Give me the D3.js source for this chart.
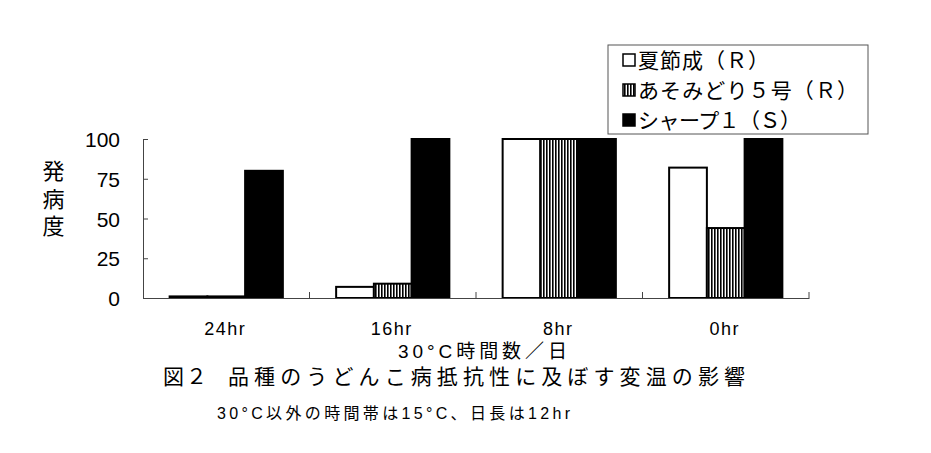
<!DOCTYPE html>
<html>
<head>
<meta charset="utf-8">
<script src="https://cdn.jsdelivr.net/npm/d3@7"></script>
<style>
  html, body { margin: 0; padding: 0; background: #fff; }
  svg { display: block; }
</style>
</head>
<body>
<svg id="chart" width="931" height="453"></svg>
<script>
// ---- data ----
const categories = ["24hr", "16hr", "8hr", "0hr"];
const seriesNames = ["夏節成（Ｒ）", "あそみどり５号（Ｒ）", "シャープ１（Ｓ）"];
const natsuhoshi = [1, 7, 100, 82];
const asomidori = [1, 9, 100, 44];
const sharp = [80, 100, 100, 100];
const yTicks = [0, 25, 50, 75, 100];
const yTitle = "発病度";
const xTitle = "30°C時間数／日";
const figTitleNum = "図２";
const figTitle = "品種のうどんこ病抵抗性に及ぼす変温の影響";
const note = "30°C以外の時間帯は15°C、日長は12hr";

const seriesValues = [natsuhoshi, asomidori, sharp];
const fills = ["#ffffff", "url(#vstripe)", "#000000"];

const svg = d3.select("#chart");
svg.append("rect").attr("width", 931).attr("height", 453).attr("fill", "#fff");

const defs = svg.append("defs");
const pat = defs.append("pattern").attr("id", "vstripe")
  .attr("patternUnits", "userSpaceOnUse").attr("width", 3).attr("height", 10);
pat.append("rect").attr("width", 3).attr("height", 10).attr("fill", "#fff");
pat.append("rect").attr("width", 1.6).attr("height", 10).attr("fill", "#000");

const plotLeft = 143, plotRight = 809, plotTop = 139, plotBottom = 298;

const x = d3.scaleBand().domain(categories).range([plotLeft, plotRight])
  .paddingInner(0.32).paddingOuter(0.16);
const xs = d3.scaleBand().domain(d3.range(seriesNames.length)).range([0, x.bandwidth()]);
const y = d3.scaleLinear().domain([0, 100]).range([plotBottom, plotTop]);

const latin = "'Liberation Sans', Arial, sans-serif";
const narrow = "'Liberation Sans Narrow', 'Liberation Sans', Arial, sans-serif";
const cjk = "'Liberation Sans', 'Noto Sans CJK JP', 'Noto Sans CJK SC', sans-serif";

// bars
const rows = [];
categories.forEach((c, i) => seriesValues.forEach((vals, s) => rows.push({ c, s, v: vals[i] })));
svg.append("g").selectAll("rect").data(rows).join("rect")
  .attr("x", d => x(d.c) + xs(d.s))
  .attr("width", xs.bandwidth())
  .attr("y", d => y(d.v))
  .attr("height", d => y(0) - y(d.v))
  .attr("fill", d => fills[d.s])
  .attr("stroke", "#000")
  .attr("stroke-width", 2);

// y axis
const yAxis = d3.axisLeft(y).tickValues(yTicks).tickSize(-5).tickPadding(23);
const gy = svg.append("g").attr("transform", `translate(${plotLeft},0)`).call(yAxis);
gy.select(".domain").attr("stroke", "#444").attr("stroke-width", 1);
gy.selectAll(".tick line").attr("stroke", "#444");
gy.selectAll(".tick text")
  .attr("font-family", latin).attr("font-size", 21).attr("fill", "#000")
  .attr("dy", "0.36em");

// x axis
const xAxis = d3.axisBottom(x).tickSize(0).tickPadding(0).tickFormat(() => "");
const gx = svg.append("g").attr("transform", `translate(0,${plotBottom})`).call(xAxis);
gx.select(".domain").attr("stroke", "#444").attr("stroke-width", 1);
// boundary ticks between categories (inward)
const bounds = categories.map(c => x(c) + x.bandwidth() + x.step() * x.paddingOuter());
svg.append("g").selectAll("line").data(bounds).join("line")
  .attr("x1", d => d).attr("x2", d => d)
  .attr("y1", plotBottom).attr("y2", plotBottom - 6)
  .attr("stroke", "#444").attr("stroke-width", 1);

// x labels
svg.append("g").selectAll("text").data(categories).join("text")
  .attr("x", d => x(d) + x.bandwidth() / 2 - 1)
  .attr("y", 335)
  .attr("text-anchor", "middle")
  .attr("font-family", narrow).attr("font-size", 18)
  .attr("letter-spacing", 1.5)
  .text(d => d);

// y title (vertical)
svg.append("text")
  .attr("x", 51).attr("y", 160)
  .attr("writing-mode", "vertical-rl")
  .attr("font-family", cjk).attr("font-size", 22)
  .attr("letter-spacing", 5.5)
  .text(yTitle);

// x title
svg.append("text")
  .attr("x", 398).attr("y", 358)
  .attr("font-family", cjk).attr("font-size", 19)
  .attr("textLength", 169).attr("lengthAdjust", "spacing")
  .text(xTitle);

// figure title
svg.append("text")
  .attr("x", 163).attr("y", 384)
  .attr("font-family", cjk).attr("font-size", 21)
  .attr("textLength", 44).attr("lengthAdjust", "spacing")
  .text(figTitleNum);
svg.append("text")
  .attr("x", 228).attr("y", 384)
  .attr("font-family", cjk).attr("font-size", 21)
  .attr("textLength", 517).attr("lengthAdjust", "spacing")
  .text(figTitle);

// note
svg.append("text")
  .attr("x", 217).attr("y", 419)
  .attr("font-family", cjk).attr("font-size", 16)
  .attr("textLength", 353).attr("lengthAdjust", "spacing")
  .text(note);

// legend
const lg = svg.append("g");
lg.append("rect").attr("x", 608).attr("y", 45).attr("width", 260).attr("height", 89)
  .attr("fill", "#fff").attr("stroke", "#555").attr("stroke-width", 1);
const legLens = [131, 220, 163];
const items = lg.selectAll("g.item").data(seriesNames).join("g").attr("class", "item")
  .attr("transform", (d, i) => `translate(0,${60 + i * 30})`);
items.append("rect")
  .attr("x", 623).attr("y", -6).attr("width", 12).attr("height", 12)
  .attr("fill", (d, i) => fills[i]).attr("stroke", "#000").attr("stroke-width", 1.5);
items.append("text")
  .attr("x", 638).attr("y", 8)
  .attr("font-family", cjk).attr("font-size", 21)
  .attr("textLength", (d, i) => legLens[i]).attr("lengthAdjust", "spacing")
  .text(d => d);
</script>
</body>
</html>
